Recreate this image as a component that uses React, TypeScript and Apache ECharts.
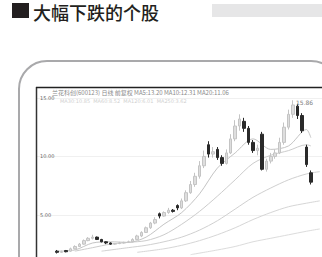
import React, { useEffect, useRef } from "react";
import * as echarts from "echarts";

const title = "大幅下跌的个股";
const headerText = "兰花科创(600123) 日线 前复权 MA5:13.20 MA10:12.31 MA20:11.06";
const subHeaderText = "MA30:10.85  MA60:8.52  MA120:6.01  MA250:3.62";
const topRightText = "15.86";
const yTickLabels = [5, 10, 15];

const N = 64;
const categories = Array.from({ length: N }, (_, i) => `D${i + 1}`);

// [index, open, close, low, high]
const candles: number[][] = [
  [4, 1.9, 1.8, 1.7, 2.0],
  [5, 1.8, 1.85, 1.75, 1.95],
  [6, 1.95, 1.85, 1.8, 2.0],
  [7, 1.9, 2.1, 1.85, 2.2],
  [8, 2.1, 2.3, 2.05, 2.4],
  [9, 2.3, 2.5, 2.25, 2.6],
  [10, 2.5, 2.8, 2.45, 2.9],
  [11, 2.8, 3.0, 2.75, 3.1],
  [12, 3.0, 3.1, 2.9, 3.3],
  [13, 3.1, 2.9, 2.85, 3.15],
  [14, 2.9, 2.7, 2.65, 2.95],
  [15, 2.7, 2.6, 2.5, 2.75],
  [16, 2.6, 2.5, 2.45, 2.65],
  [17, 2.5, 2.55, 2.45, 2.6],
  [18, 2.55, 2.6, 2.5, 2.7],
  [19, 2.6, 2.65, 2.55, 2.7],
  [20, 2.65, 2.7, 2.6, 2.8],
  [21, 2.7, 2.9, 2.65, 3.0],
  [22, 2.9, 3.2, 2.85, 3.3],
  [23, 3.2, 3.5, 3.1, 3.6],
  [24, 3.5, 3.9, 3.45, 4.0],
  [25, 3.9, 4.3, 3.8, 4.4],
  [26, 4.3, 4.6, 4.2, 4.8],
  [27, 5.1, 4.9, 4.7, 5.2],
  [28, 4.9, 5.2, 4.85, 5.3],
  [29, 5.2, 5.4, 5.1, 5.6],
  [30, 5.4, 5.3, 5.2, 5.5],
  [31, 5.8, 5.6, 5.4, 5.9],
  [32, 5.6, 6.2, 5.5, 6.4],
  [33, 6.2, 6.9, 6.1, 7.1],
  [34, 6.9, 7.6, 6.8, 7.9],
  [35, 7.6, 8.3, 7.4, 8.6],
  [36, 8.3, 9.2, 8.1, 9.6],
  [37, 9.2, 10.0, 9.0, 10.5],
  [38, 11.0, 10.2, 9.9, 11.3],
  [39, 10.2, 10.4, 9.9, 10.8],
  [40, 10.6, 9.9, 9.7, 10.8],
  [41, 9.9, 9.4, 9.2, 10.1],
  [42, 9.4, 10.3, 9.3, 10.6],
  [43, 10.3, 11.5, 10.2, 11.9],
  [44, 11.5, 12.6, 11.3, 13.1],
  [45, 12.6, 13.2, 12.2, 13.6],
  [46, 13.0, 12.4, 12.1, 13.3],
  [47, 12.4, 11.2, 11.0, 12.6],
  [48, 11.2, 10.5, 10.3, 11.4],
  [49, 10.5, 10.7, 10.1, 11.0],
  [50, 11.9, 8.9, 8.8, 12.1],
  [51, 8.9, 9.6, 8.7, 9.8],
  [52, 9.6, 10.0, 9.4, 10.3],
  [53, 10.0, 10.3, 9.8, 10.6],
  [54, 10.3, 11.2, 10.2, 11.6],
  [55, 11.2, 12.5, 11.0, 12.9],
  [56, 12.5, 13.6, 12.3, 14.0],
  [57, 13.6, 14.4, 13.3, 14.8],
  [58, 14.3, 13.5, 13.2, 14.5],
  [59, 13.5, 12.2, 12.0, 13.7],
  [60, 10.8, 9.3, 9.1, 11.0],
  [61, 8.6, 7.8, 7.6, 8.8],
];

const maShort = [[4, 1.9], [8, 2.0], [12, 2.6], [16, 2.7], [20, 2.65], [24, 3.1], [28, 4.2], [32, 5.2], [36, 6.8], [40, 9.0], [44, 10.3], [48, 11.5], [52, 10.6], [56, 10.9], [60, 12.3], [61, 11.6]];
const maMid = [[8, 1.9], [12, 2.2], [16, 2.5], [20, 2.65], [24, 2.8], [28, 3.3], [32, 4.2], [36, 5.3], [40, 6.6], [44, 8.0], [48, 9.4], [52, 10.1], [56, 10.5], [60, 11.0], [61, 10.9]];
const maLong = [[14, 1.9], [20, 2.2], [24, 2.4], [28, 2.7], [32, 3.1], [36, 3.7], [40, 4.5], [44, 5.5], [48, 6.5], [52, 7.3], [56, 8.0], [60, 8.5], [63, 8.7]];
const maLonger = [[22, 1.8], [28, 2.1], [32, 2.4], [36, 2.8], [40, 3.3], [44, 3.9], [48, 4.6], [52, 5.2], [56, 5.7], [60, 6.0], [63, 6.2]];
const maLongest = [[34, 1.6], [40, 2.0], [44, 2.3], [48, 2.7], [52, 3.0], [56, 3.3], [60, 3.6], [63, 3.8]];

export default function App() {
  const ref = useRef<HTMLDivElement>(null);
  useEffect(() => {
    document.body.style.margin = "0";
    const chart = echarts.init(ref.current!, undefined, { renderer: "svg" });
    const candleData: any[] = categories.map(() => "-");
    candles.forEach((c) => {
      candleData[c[0]] = [c[1], c[2], c[3], c[4]];
    });
    const maLine = (data: number[][], color: string) => ({
      type: "line",
      data,
      symbol: "none",
      connectNulls: true,
      smooth: 0.3,
      lineStyle: { color, width: 1 },
      z: 1,
    });
    chart.setOption({
      animation: false,
      backgroundColor: "#ffffff",
      grid: { left: 37, top: 88, right: 0, bottom: 0, show: false },
      xAxis: {
        type: "category",
        data: categories,
        show: false,
        boundaryGap: true,
      },
      yAxis: {
        type: "value",
        min: 1.4,
        max: 15.85,
        axisLine: { show: false },
        axisTick: { show: false, customValues: yTickLabels },
        splitLine: { show: true, lineStyle: { color: "#f0f0f0", width: 1 } },
        axisLabel: {
          inside: true,
          customValues: yTickLabels,
          formatter: (v: number) => v.toFixed(2),
          fontSize: 5,
          color: "#666",
          margin: 3,
          fontFamily: "DejaVu Sans",
        },
      },
      series: [
        maLine(maLongest, "#dcdcdc"),
        maLine(maLonger, "#d6d6d6"),
        maLine(maLong, "#d0d0d0"),
        maLine(maMid, "#cccccc"),
        maLine(maShort, "#c4c4c4"),
        {
          type: "candlestick",
          data: candleData,
          barWidth: 3,
          z: 3,
          itemStyle: {
            color: "#dedede",
            borderColor: "#c4c4c4",
            color0: "#2a2a2a",
            borderColor0: "#2a2a2a",
            borderWidth: 1,
          },
        },
      ],
      graphic: [
        { type: "rect", shape: { x: 12, y: 3, width: 17, height: 15 }, style: { fill: "#231f20" } },
        {
          type: "text",
          x: 33,
          y: 11.5,
          style: {
            text: title,
            fontSize: 18,
            lineHeight: 18,
            fontFamily: "Noto Sans CJK SC",
            fill: "#231f20",
            fontWeight: 500,
            verticalAlign: "middle",
          },
        },
        { type: "rect", shape: { x: 212, y: 4, width: 110, height: 13 }, style: { fill: "#e6e6e7" } },
        {
          type: "rect",
          shape: { x: 19, y: 61, width: 320, height: 260, r: 28 },
          style: { fill: "none", stroke: "#a9a9ab", lineWidth: 2 },
          z: 0,
        },
        {
          type: "line",
          shape: { x1: 36.5, y1: 87, x2: 36.5, y2: 257 },
          style: { stroke: "#333", lineWidth: 1.5 },
          z: 10,
        },
        {
          type: "line",
          shape: { x1: 36, y1: 87.5, x2: 322, y2: 87.5 },
          style: { stroke: "#222", lineWidth: 1.5 },
          z: 10,
        },
        {
          type: "text",
          x: 52,
          y: 89.5,
          style: { text: headerText, fontSize: 6, fill: "#8a8a8a", fontFamily: "Noto Sans CJK SC" },
          z: 10,
        },
        {
          type: "text",
          x: 60,
          y: 98.5,
          style: { text: subHeaderText, fontSize: 5, fill: "#d0d0d0", fontFamily: "DejaVu Sans" },
          z: 10,
        },
        {
          type: "text",
          x: 296,
          y: 99,
          style: { text: topRightText, fontSize: 6, fill: "#808080", fontFamily: "DejaVu Sans" },
          z: 10,
        },
      ],
    });
    return () => chart.dispose();
  }, []);
  return <div ref={ref} style={{ width: 322, height: 257 }} />;
}
